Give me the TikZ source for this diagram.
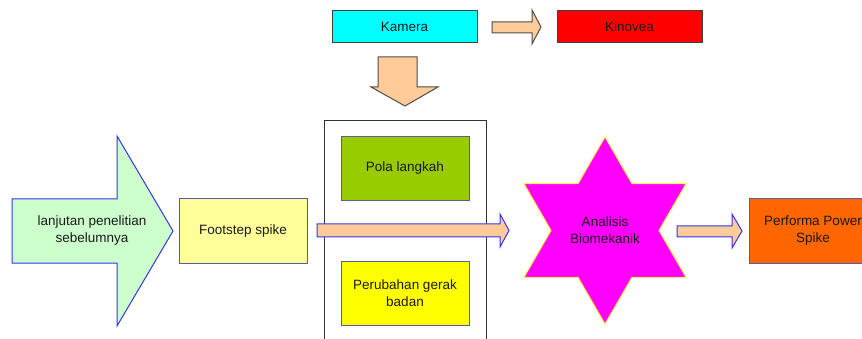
\documentclass[tikz,border=0pt]{standalone}
\usepackage{fontspec}
\setmainfont{Liberation Sans}
\usetikzlibrary{calc}
\definecolor{lgreen}{HTML}{CCFFCC}
\definecolor{lyellow}{HTML}{FFFF99}
\definecolor{peach}{HTML}{FFCC99}
\definecolor{olive}{HTML}{99CC00}
\definecolor{orng}{HTML}{FF6600}
\definecolor{bord}{HTML}{5A5AAA}
\definecolor{arrblue}{HTML}{3333FF}
\definecolor{txt}{HTML}{1A1A1A}
\definecolor{cyanrgb}{HTML}{00FFFF}
\definecolor{redrgb}{HTML}{FF0000}
\definecolor{yellowrgb}{HTML}{FFFF00}
\definecolor{magentargb}{HTML}{FF00FF}
\definecolor{staredge}{HTML}{FFEE44}
\tikzset{
  box/.style={draw=bord, line width=1pt, minimum height=64pt, minimum width=128pt, inner sep=0pt, align=center, text=txt},
  topbox/.style={draw=black!75, line width=1pt, minimum height=32pt, minimum width=145pt, inner sep=0pt, text=txt},
  lbl/.style={align=center, text=txt, inner sep=0pt},
  blockarrow/.style={fill=peach, draw=arrblue, line width=1pt, line join=miter},
  grayarrow/.style={fill=peach, draw=black!70, line width=1pt, line join=miter},
}
\begin{document}
\begin{tikzpicture}[x=1pt,y=-1pt,font=\fontsize{13.5}{17}\selectfont]
\useasboundingbox (0,0) rectangle (862,339);
\clip (0,0) rectangle (862,339);
% frame
\draw[draw=black!80, line width=1pt] (324,121) rectangle (486,350);
% big green arrow
\draw[fill=lgreen, draw=arrblue, line width=1pt, line join=miter]
  (12,199) -- (117,199) -- (117,136) -- (173,231) -- (117,326) -- (117,263) -- (12,263) -- cycle;
\node[lbl] (lanjut) at (92,231) {lanjutan penelitian\\sebelumnya};
% footstep
\node[box, fill=lyellow] (foot) at (243,231) {Footstep spike};
% kamera / kinovea
\node[topbox, fill=cyanrgb] (kam) at (404.5,27) {Kamera};
\node[topbox, fill=redrgb] (kin) at (629.5,27) {Kinovea};
\draw[grayarrow] (492,22) -- (532,22) -- (532,10) -- (541,27) -- (532,44) -- (532,33) -- (492,33) -- cycle;
% down arrow
\draw[grayarrow] (378,57) -- (417,57) -- (417,87) -- (438,87) -- (405,106) -- (371,87) -- (378,87) -- cycle;
% inner boxes
\node[box, fill=olive] (pola) at (405,168.5) {Pola langkah};
\node[box, fill=yellowrgb] (ubah) at (405,293.5) {Perubahan gerak\\badan};
% long arrow
\draw[blockarrow] (317,224) -- (500,224) -- (500,214) -- (509,230.5) -- (500,247) -- (500,237) -- (317,237) -- cycle;
% star
\coordinate (sc) at (605,230.5);
\draw[fill=magentargb, draw=staredge, line width=1pt]
  ($(sc)+(90:93.5)$) -- ($(sc)+(60:54)$) -- ($(sc)+(30:93.5)$) -- ($(sc)+(0:54)$) --
  ($(sc)+(-30:93.5)$) -- ($(sc)+(-60:54)$) -- ($(sc)+(-90:93.5)$) -- ($(sc)+(-120:54)$) --
  ($(sc)+(-150:93.5)$) -- ($(sc)+(180:54)$) -- ($(sc)+(150:93.5)$) -- ($(sc)+(120:54)$) -- cycle;
\node[lbl] (anal) at (sc) {Analisis\\Biomekanik};
% right arrow
\draw[blockarrow] (677,226) -- (732,226) -- (732,214) -- (742,231) -- (732,248) -- (732,237) -- (677,237) -- cycle;
% performa
\node[box, fill=orng] (perf) at (813,231) {Performa Power\\Spike};
\end{tikzpicture}
\end{document}
